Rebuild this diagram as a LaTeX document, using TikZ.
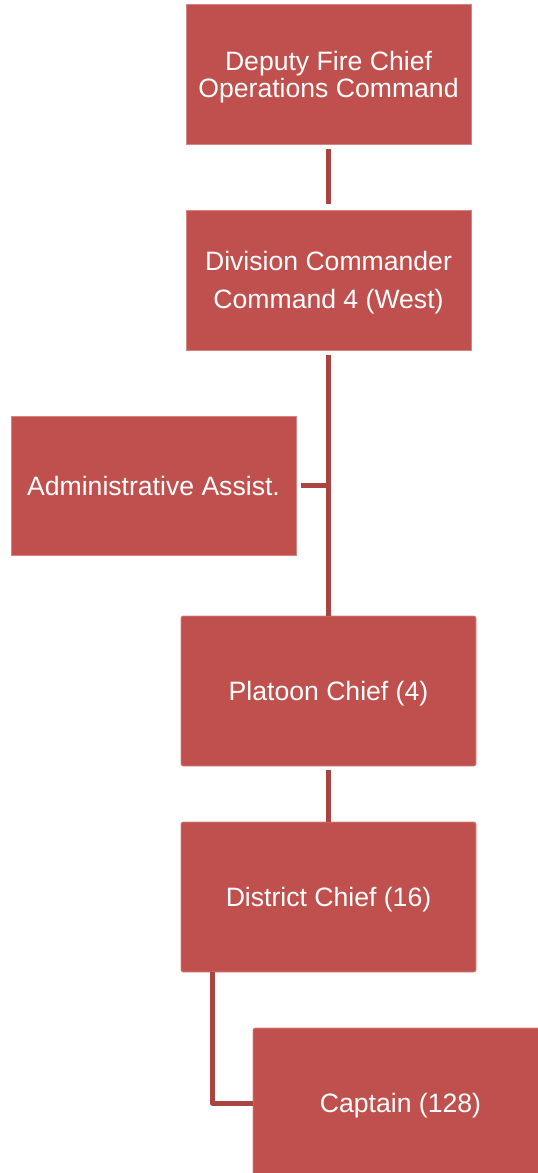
\documentclass[tikz,border=0pt]{standalone}
\usepackage{fontspec}
\setmainfont{Liberation Sans}
\definecolor{boxred}{RGB}{192,80,77}
\definecolor{boxedge}{RGB}{214,132,130}
\definecolor{linkred}{RGB}{170,68,65}
\begin{document}
\begin{tikzpicture}[x=1pt,y=-1pt,
  orgbox/.style={rectangle, fill=boxred, draw=boxedge, line width=0.6pt,
    text=white, align=center, inner sep=0pt, text depth=0pt,
    font=\fontsize{26.6}{27}\selectfont},
  wide/.style={orgbox, minimum width=285pt, minimum height=140pt},
  big/.style={orgbox, rounded corners=2pt, minimum width=295pt, minimum height=150pt},
  link/.style={draw=linkred, line width=5pt, line join=round}]
\useasboundingbox (0,0) rectangle (538,1173);
\clip (0,0) rectangle (538,1173);

% boxes of the chain of command
\node[wide] (dfc) at (328.5,74) {Deputy Fire Chief\\Operations Command};
\node[wide, font=\fontsize{26.6}{38}\selectfont] (div) at (328.5,280) {Division Commander\\Command 4 (West)};
\node[wide, minimum height=139pt] (adm) at (153.5,485.5) {Administrative Assist.};
\node[big] (plc) at (328.5,691) {Platoon Chief (4)};
\node[big] (dc) at (328.5,897) {District Chief (16)};
\node[big] (cap) at (400.5,1103) {Captain (128)};

% reporting lines
\draw[link, shorten <=5pt, shorten >=6pt] (dfc.south) -- (div.north);
\draw[link, shorten <=5pt] (div.south) -- (plc.north);
\draw[link, shorten <=5pt] (adm.east) -- (adm.east -| div.south);
\draw[link, shorten <=4pt] (plc.south) -- (dc.north);
\draw[link] ([xshift=31.5pt]dc.south west) |- (cap.west);
\end{tikzpicture}
\end{document}
